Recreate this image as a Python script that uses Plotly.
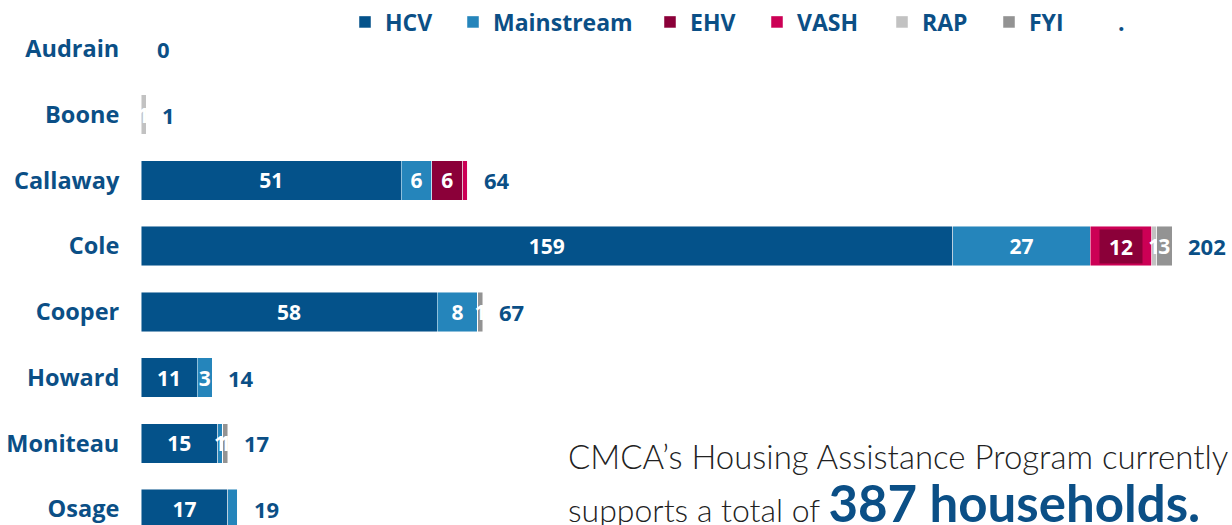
import plotly.graph_objects as go

# ---------------- data ----------------
categories = ["Audrain", "Boone", "Callaway", "Cole", "Cooper", "Howard", "Moniteau", "Osage"]
hcv        = [0, 0, 51, 159, 58, 11, 15, 17]
mainstream = [0, 0, 6, 27, 8, 3, 1, 2]
ehv        = [0, 0, 6, 0, 0, 0, 0, 0]
vash       = [0, 0, 1, 12, 0, 0, 0, 0]
rap        = [0, 1, 0, 1, 0, 0, 0, 0]
fyi        = [0, 0, 0, 3, 1, 0, 1, 0]
totals     = [0, 1, 64, 202, 67, 14, 17, 19]
series_names = ["HCV", "Mainstream", "EHV", "VASH", "RAP", "FYI"]
# segment labels not printed in the picture (name, category)
hidden_labels = {("VASH", "Callaway"), ("VASH", "Cole"), ("Mainstream", "Osage")}
# the Cole VASH value is printed on a dark box
boxed_label = ("VASH", "Cole")
headline_1 = "CMCA’s Housing Assistance Program currently"
headline_2a = "supports a total of "
headline_2b = "387 households."

# ---------------- styles ----------------
colors = {"HCV": "#04528a", "Mainstream": "#2585bb", "EHV": "#8b0039",
          "VASH": "#cc0055", "RAP": "#c2c2c2", "FYI": "#939393"}
DARK = "#0b4f86"
BOLD_FONT = "Open Sans"
# left pixel of each legend entry text
legend_text_px = [385, 493, 690, 797, 922, 1029, 1118]

PLOT_L, PLOT_T, W, H = 141, 12, 1232, 525


def px_x(p):
    return (p - PLOT_L) / (W - PLOT_L)


def px_y(p):
    return (H - p) / (H - PLOT_T)


values = dict(zip(series_names, [hcv, mainstream, ehv, vash, rap, fyi]))

fig = go.Figure()
legend_ids = ["legend"] + ["legend%d" % i for i in range(2, 8)]
for k, name in enumerate(series_names):
    vals = values[name]
    txt = []
    for c, v in zip(categories, vals):
        if v > 0 and (name, c) not in hidden_labels:
            txt.append(str(v))
        else:
            txt.append("")
    fig.add_trace(go.Bar(
        y=categories, x=vals, name=name, orientation="h", legend=legend_ids[k],
        marker=dict(color=colors[name], line=dict(color="rgba(255,255,255,0.6)", width=0.8)),
        text=txt, textposition="inside", insidetextanchor="middle",
        textfont=dict(family=BOLD_FONT, size=21, color="white", weight="bold"),
        width=0.6, hoverinfo="skip",
    ))

# blank legend entry "."
fig.add_trace(go.Bar(y=categories, x=[0] * len(categories), name=".", orientation="h",
                     legend=legend_ids[6],
                     marker=dict(color="rgba(0,0,0,0)", line=dict(width=0)), hoverinfo="skip"))

annotations = []
# totals
for c, t in zip(categories, totals):
    annotations.append(dict(x=t, y=c, xref="x", yref="y", text=str(t), showarrow=False,
                            xanchor="left", yanchor="middle", xshift=14,
                            font=dict(family=BOLD_FONT, size=22, color=DARK, weight="bold")))
# boxed label
bname, bcat = boxed_label
bi = categories.index(bcat)
bx = hcv[bi] + mainstream[bi] + ehv[bi] + vash[bi] / 2
annotations.append(dict(x=bx, y=bcat, xref="x", yref="y", text=str(vash[bi]), showarrow=False,
                        xanchor="center", yanchor="middle", bgcolor=colors["EHV"],
                        width=40, height=31,
                        font=dict(family=BOLD_FONT, size=21, color="white", weight="bold")))

annotations.append(dict(x=px_x(566), y=px_y(455), xref="paper", yref="paper", text=headline_1,
                        showarrow=False, xanchor="left", yanchor="middle",
                        font=dict(family="Lato", size=33, color="#222222", weight=300)))
annotations.append(dict(x=px_x(566), y=px_y(502), xref="paper", yref="paper",
                        text=headline_2a + "<span style='font-size:51px;color:%s;font-weight:bold'>%s</span>" % (DARK, headline_2b),
                        showarrow=False, xanchor="left", yanchor="middle",
                        font=dict(family="Lato", size=32, color="#222222", weight=300)))

legend_layouts = {}
for lid, tx in zip(legend_ids, legend_text_px):
    legend_layouts[lid] = dict(orientation="h", x=px_x(tx - 40), y=px_y(18),
                               xanchor="left", yanchor="middle",
                               font=dict(family=BOLD_FONT, size=23, color=DARK, weight="bold"),
                               bgcolor="rgba(0,0,0,0)")

fig.update_layout(
    width=W, height=H,
    margin=dict(l=PLOT_L, r=0, t=PLOT_T, b=0, pad=0),
    barmode="stack",
    plot_bgcolor="white", paper_bgcolor="white",
    uniformtext=dict(minsize=21, mode="show"),
    xaxis=dict(range=[0, 213.75], visible=False, fixedrange=True),
    yaxis=dict(type="category", categoryorder="array", categoryarray=categories,
               range=[7.24, -0.5], showgrid=False, zeroline=False, showline=False,
               automargin=False, fixedrange=True,
               ticks="outside", ticklen=16, tickcolor="rgba(0,0,0,0)",
               tickfont=dict(family=BOLD_FONT, size=23.5, color=DARK, weight="bold")),
    annotations=annotations,
    showlegend=True,
    **legend_layouts,
)

fig.write_html("out.html", config={"displayModeBar": False},
               post_script="document.body.style.margin='0';")
